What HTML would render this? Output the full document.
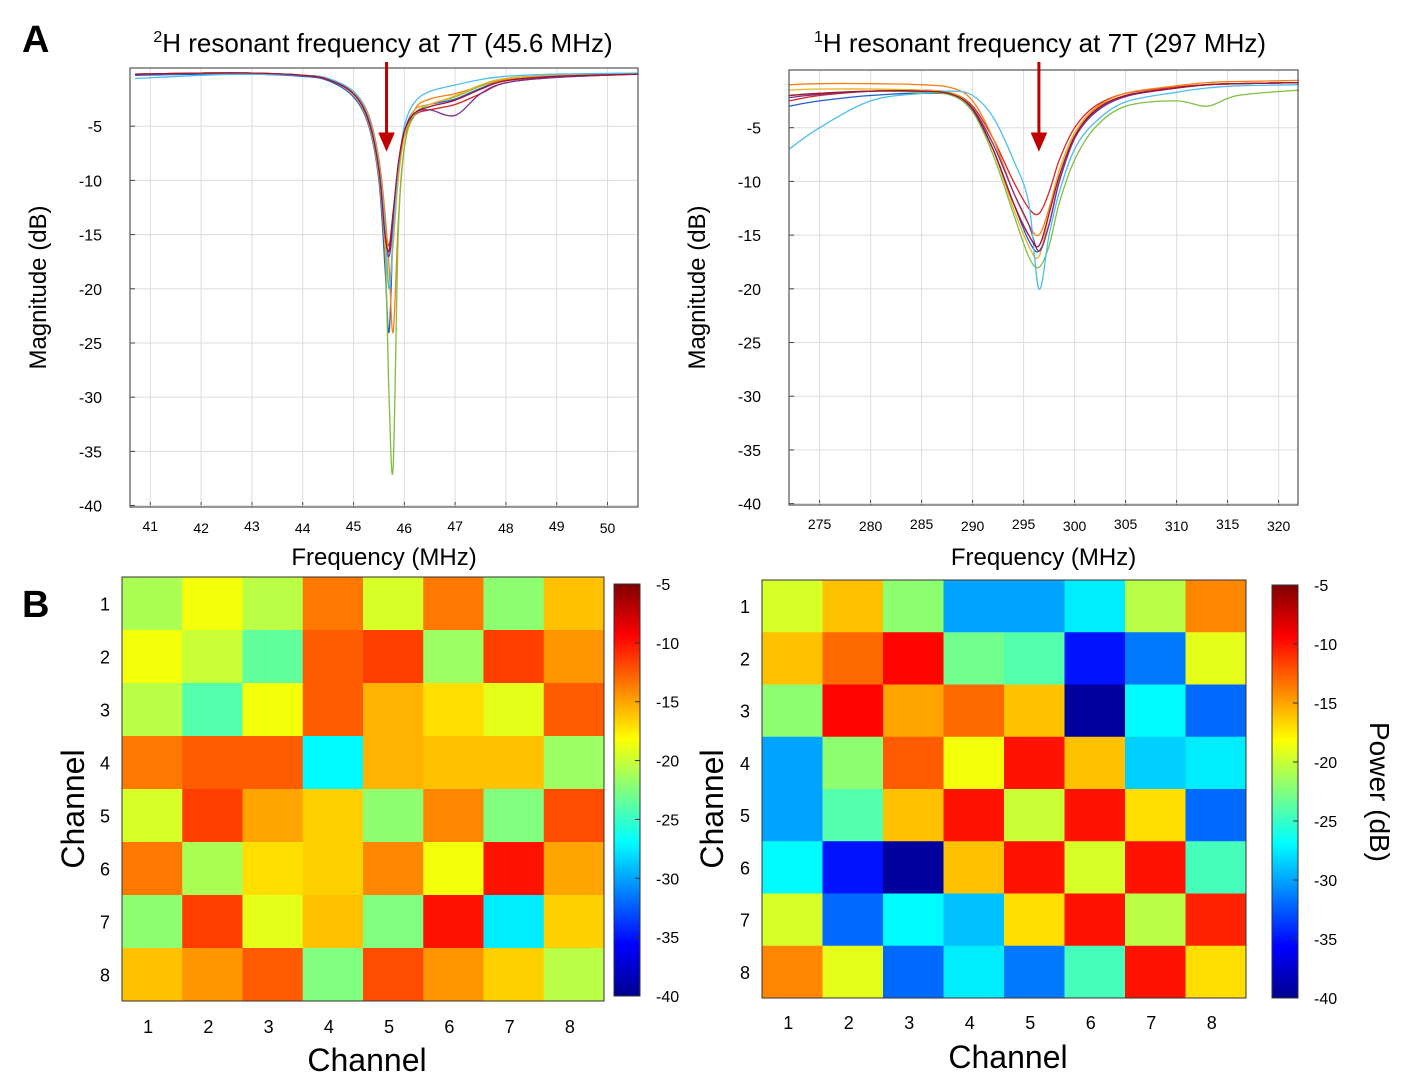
<!DOCTYPE html>
<html><head><meta charset="utf-8"><style>
body{margin:0;background:#fff;font-family:"Liberation Sans",Arial,sans-serif}
svg text{font-family:"Liberation Sans",Arial,sans-serif}
</style></head><body>
<svg id="fig" width="1411" height="1080" xmlns="http://www.w3.org/2000/svg">
<defs>
<linearGradient id="jet" x1="0" y1="1" x2="0" y2="0">
<stop offset="0" stop-color="#00008f"/><stop offset="0.125" stop-color="#0000ff"/><stop offset="0.375" stop-color="#00ffff"/><stop offset="0.625" stop-color="#ffff00"/><stop offset="0.875" stop-color="#ff0000"/><stop offset="1" stop-color="#800000"/>
</linearGradient>
</defs>
<text x="22" y="52" font-size="38" font-weight="bold">A</text>
<text x="22" y="617" font-size="38" font-weight="bold">B</text>
<text x="383" y="52" font-size="26" text-anchor="middle"><tspan font-size="16" dy="-10">2</tspan><tspan dy="10">H resonant frequency at 7T (45.6 MHz)</tspan></text>
<text x="1040" y="52" font-size="26" text-anchor="middle"><tspan font-size="16" dy="-10">1</tspan><tspan dy="10">H resonant frequency at 7T (297 MHz)</tspan></text>
<g id="g"></g>
</svg>
<script>
const NS="http://www.w3.org/2000/svg";
const colors=["#d62728","#1f5fd0","#ff7f0e","#7fbf3f","#edb120","#7e2f8e","#4dbeee","#a2142f"];
// Left plot (2H)
const leftX=[40.7,42,43,44,44.5,45,45.3,45.5,45.62,45.7,45.78,45.88,46,46.2,46.5,47,47.5,48,49,50.6];
const leftY1=[-0.2,-0.1,-0.1,-0.3,-0.6,-2,-4.5,-9,-14,-16,-13,-9,-6,-4,-3.5,-3,-2,-1,-0.5,-0.2];
const leftY2=[-0.3,-0.2,-0.2,-0.4,-0.8,-2.3,-5,-10,-18,-24,-15,-9,-5.5,-3.5,-3,-2.5,-1.5,-0.8,-0.4,-0.2];
const leftY3=[-0.2,-0.1,-0.1,-0.3,-0.6,-1.8,-4,-8,-13,-18,-24,-14,-7,-3.5,-2.5,-2,-1.3,-0.7,-0.3,-0.1];
const leftY4=[-0.2,-0.1,-0.1,-0.3,-0.7,-2,-4.5,-9,-16,-30,-36.5,-15,-7,-4,-3,-2.3,-1.3,-0.6,-0.3,-0.1];
const leftY5=[-0.2,-0.1,-0.1,-0.3,-0.7,-2.1,-4.8,-9.5,-16,-20,-16,-10,-6,-3.5,-3,-2.2,-1.2,-0.6,-0.3,-0.1];
const leftY6=[-0.2,-0.1,-0.1,-0.3,-0.7,-2,-4.6,-9,-15,-17,-14,-9,-5.5,-3.8,-3.5,-4,-2,-1,-0.5,-0.2];
const leftY7=[-0.6,-0.3,-0.2,-0.3,-0.6,-1.8,-4.2,-8.5,-14,-20,-15,-9,-5,-2.8,-1.8,-1.2,-0.7,-0.4,-0.2,-0.1];
const leftY8=[-0.2,-0.1,-0.1,-0.3,-0.7,-2,-4.5,-9,-15,-16.5,-13,-8.5,-5.5,-3.8,-3.2,-2.6,-1.6,-0.8,-0.4,-0.2];
const leftSeries=[leftY1,leftY2,leftY3,leftY4,leftY5,leftY6,leftY7,leftY8];
const leftXTicks=[41,42,43,44,45,46,47,48,49,50];
const yTicks=[-5,-10,-15,-20,-25,-30,-35,-40];
// Right plot (1H)
const rightX=[272,275,280,285,288,290,292,294,295.5,296.5,297.5,298.5,300,302,305,310,313,316,322];
const rightY1=[-2.5,-2,-1.6,-1.5,-1.8,-3,-6,-10,-12.5,-13,-11,-8,-5,-3,-1.8,-1.2,-1,-0.9,-0.8];
const rightY2=[-3,-2.5,-2,-1.8,-2,-3.5,-7,-12,-15.5,-16.5,-14,-10,-6,-3.5,-2,-1.3,-1,-0.9,-0.8];
const rightY3=[-1,-0.9,-0.9,-1,-1.3,-2.5,-6,-11,-14,-15,-12.5,-9,-5.5,-3.2,-1.8,-1.1,-0.8,-0.7,-0.6];
const rightY4=[-2,-1.8,-1.6,-1.7,-2,-3.5,-7.5,-13,-17,-18,-16,-12,-8,-5,-3,-2.5,-3,-2,-1.5];
const rightY5=[-1.5,-1.4,-1.4,-1.5,-1.8,-3.2,-7,-12.5,-16,-17,-13,-9,-5.5,-3.3,-2,-1.3,-1,-0.9,-0.8];
const rightY6=[-2.2,-1.9,-1.6,-1.6,-1.9,-3.2,-6.5,-11,-14,-16.5,-14,-10,-6,-3.6,-2.1,-1.3,-1,-0.9,-0.8];
const rightY7=[-7,-5,-2.5,-1.8,-1.6,-2,-4,-8,-12,-20,-15,-11,-7,-4.5,-2.6,-1.7,-1.3,-1.1,-1];
const rightY8=[-2,-1.8,-1.6,-1.6,-1.9,-3.3,-7,-12,-15,-16,-13,-9.5,-5.8,-3.4,-2,-1.3,-1,-0.9,-0.8];
const rightSeries=[rightY1,rightY2,rightY3,rightY4,rightY5,rightY6,rightY7,rightY8];
const rightXTicks=[275,280,285,290,295,300,305,310,315,320];
// Heatmaps
const channels=[1,2,3,4,5,6,7,8];
const cbTicks=[-5,-10,-15,-20,-25,-30,-35,-40];
const heatLeft=[
[-21,-18.5,-20.5,-13.5,-19.5,-13.5,-22,-16],
[-18.5,-20,-23.5,-12.5,-11.5,-21.5,-11.5,-14.5],
[-20.5,-24,-18.5,-12.5,-15.5,-17,-19,-12.5],
[-13.5,-12.5,-12.5,-27,-15.5,-16,-16,-21.5],
[-19.5,-11.5,-15,-16.5,-22,-14,-22.5,-12],
[-13.5,-21,-17,-16.5,-14,-18.5,-10,-15],
[-22,-11.5,-19,-16,-22.5,-10,-27.5,-16.5],
[-16,-14.5,-12.5,-22.5,-12,-14.5,-16.5,-20.5]];
const heatRight=[
[-19.5,-16,-22,-30,-30,-27.5,-20.5,-14],
[-16,-13,-9.5,-23,-24,-35,-31.5,-19],
[-22,-9.5,-15,-13,-16,-39,-27,-32],
[-30,-22,-12.5,-18.5,-10,-16,-28.5,-27.5],
[-30,-24,-16,-10,-20,-10,-17,-32],
[-27,-35,-39,-16,-10,-19.5,-10,-24.5],
[-19.5,-32,-27,-29,-17,-10,-20.5,-10.5],
[-14,-19,-32,-27.5,-31.5,-24.5,-10,-17]];

const g=document.getElementById('g');
function el(tag,attrs,parent){const e=document.createElementNS(NS,tag);for(const k in attrs)e.setAttribute(k,attrs[k]);(parent||g).appendChild(e);return e;}
function txt(x,y,s,size,anchor,parent){const t=el('text',{x:x,y:y,'font-size':size,'text-anchor':anchor||'middle'},parent);t.textContent=s;return t;}
function jet(v){let t=(v+40)/35;t=Math.max(0,Math.min(1,t));
 const f=(a)=>Math.max(0,Math.min(1,a));
 const r=f(Math.min(4*t-1.5,-4*t+4.5)),gg=f(Math.min(4*t-0.5,-4*t+3.5)),b=f(Math.min(4*t+0.5,-4*t+2.5));
 return `rgb(${Math.round(r*255)},${Math.round(gg*255)},${Math.round(b*255)})`;}
function smooth(pts){let d='M'+pts[0][0].toFixed(1)+','+pts[0][1].toFixed(1);
 for(let i=0;i<pts.length-1;i++){const p0=pts[Math.max(0,i-1)],p1=pts[i],p2=pts[i+1],p3=pts[Math.min(pts.length-1,i+2)];
  const c1=[p1[0]+(p2[0]-p0[0])/6,p1[1]+(p2[1]-p0[1])/6],c2=[p2[0]-(p3[0]-p1[0])/6,p2[1]-(p3[1]-p1[1])/6];
  d+=`C${c1[0].toFixed(1)},${c1[1].toFixed(1)} ${c2[0].toFixed(1)},${c2[1].toFixed(1)} ${p2[0].toFixed(1)},${p2[1].toFixed(1)}`;}
 return d;}

function linePlot(name,x0,x1,y0,y1,xmin,xmax,xs,series,xticks,arrowF){
 const gp=el('g',{});
 
 
 const sx=v=>x0+(v-xmin)/(xmax-xmin)*(x1-x0);
 const sy=v=>y0+(0-v)/40.5*(y1-y0)+4;
 el('rect',{x:x0,y:y0,width:x1-x0,height:y1-y0,fill:'#fff'},gp);
 xticks.forEach((t,i)=>{el('line',{x1:sx(t),x2:sx(t),y1:y0,y2:y1,stroke:'#ddd','stroke-width':1},gp);
  el('line',{x1:sx(t),x2:sx(t),y1:y1,y2:y1-5,stroke:'#444'},gp);
  const lb=txt(sx(t),y1+24+(i%2?2:0),String(t),14,'middle',gp);
  });
 yTicks.forEach(t=>{el('line',{x1:x0,x2:x1,y1:sy(t),y2:sy(t),stroke:'#ddd'},gp);
  el('line',{x1:x0,x2:x0+5,y1:sy(t),y2:sy(t),stroke:'#444'},gp);
  const lb=txt(x0-28,sy(t)+6,String(t),16,'end',gp);
  });
 series.forEach((ys,i)=>{const pts=xs.map((x,j)=>[sx(x),sy(ys[j])]);
  const p=el('path',{d:smooth(pts),fill:'none',stroke:colors[i],'stroke-width':1.3},gp);
  });
 el('rect',{x:x0,y:y0,width:x1-x0,height:y1-y0,fill:'none',stroke:'#555','stroke-width':1.2},gp);
 const ax=sx(arrowF);
 const a=el('path',{d:`M${ax},62L${ax},136M${ax-6},134L${ax},148L${ax+6},134Z`,stroke:'#c00000','stroke-width':3,fill:'#c00000'},gp);
 
 const xl=txt((x0+x1)/2,565,'Frequency (MHz)',24,'middle',gp);
 
 const yx=x0-84,yy=(y0+y1)/2;
 const yl=txt(yx,yy,'Magnitude (dB)',24,'middle',gp);yl.setAttribute('transform',`rotate(-90 ${yx} ${yy})`);
 
}
linePlot('plot-2h',130,638,68,507,40.6,50.6,leftX,leftSeries,leftXTicks,45.65);
linePlot('plot-1h',789,1298,70,505,272,321.9,rightX,rightSeries,rightXTicks,296.5);

function heat(name,x0,y0,w,h,data,cbx,cby0,cby1,lblX,xlY,chY,chX,chXlabel){
 const gp=el('g',{});
 
 
 const cw=w/8,ch=h/8;
 data.forEach((row,r)=>row.forEach((v,c)=>{const e=el('rect',{x:x0+c*cw,y:y0+r*ch,width:cw+0.5,height:ch+0.5,fill:jet(v)},gp);
  }));
 el('rect',{x:x0,y:y0,width:w,height:h,fill:'none',stroke:'#333'},gp);
 channels.forEach((c,i)=>{
  const a=txt(lblX,y0+(i+0.5)*ch+7,String(c),18,'middle',gp);
  const b=txt(x0+(i+0.5)*cw-4,xlY,String(c),18,'middle',gp);});
 const cb=el('rect',{x:cbx,y:cby0,width:26,height:cby1-cby0,fill:'url(#jet)',stroke:'#333'},gp);
 
 cbTicks.forEach(t=>{const y=cby0+(-5-t)/35*(cby1-cby0);
  el('line',{x1:cbx+26,x2:cbx+21,y1:y,y2:y,stroke:'#333'},gp);
  const l=txt(cbx+42,y+6,String(t),16,'start',gp);});
 const cy=y0+h/2+20;
 const yl=txt(chY,cy,'Channel',32,'middle',gp);yl.setAttribute('transform',`rotate(-90 ${chY} ${cy})`);
 
 const xl=txt(x0+w/2+4,chXlabel,'Channel',32,'middle',gp);
}
heat('heatmap-2h',122,577,482,424,heatLeft,614,584,996,105,1033,84,0,1071);
heat('heatmap-1h',762,580,484,418,heatRight,1272,585,998,745,1029,723,0,1068);
const pw=txt(1370,792,'Power (dB)',28,'middle');pw.setAttribute('transform','rotate(90 1370 792)');


</script>
</body></html>
